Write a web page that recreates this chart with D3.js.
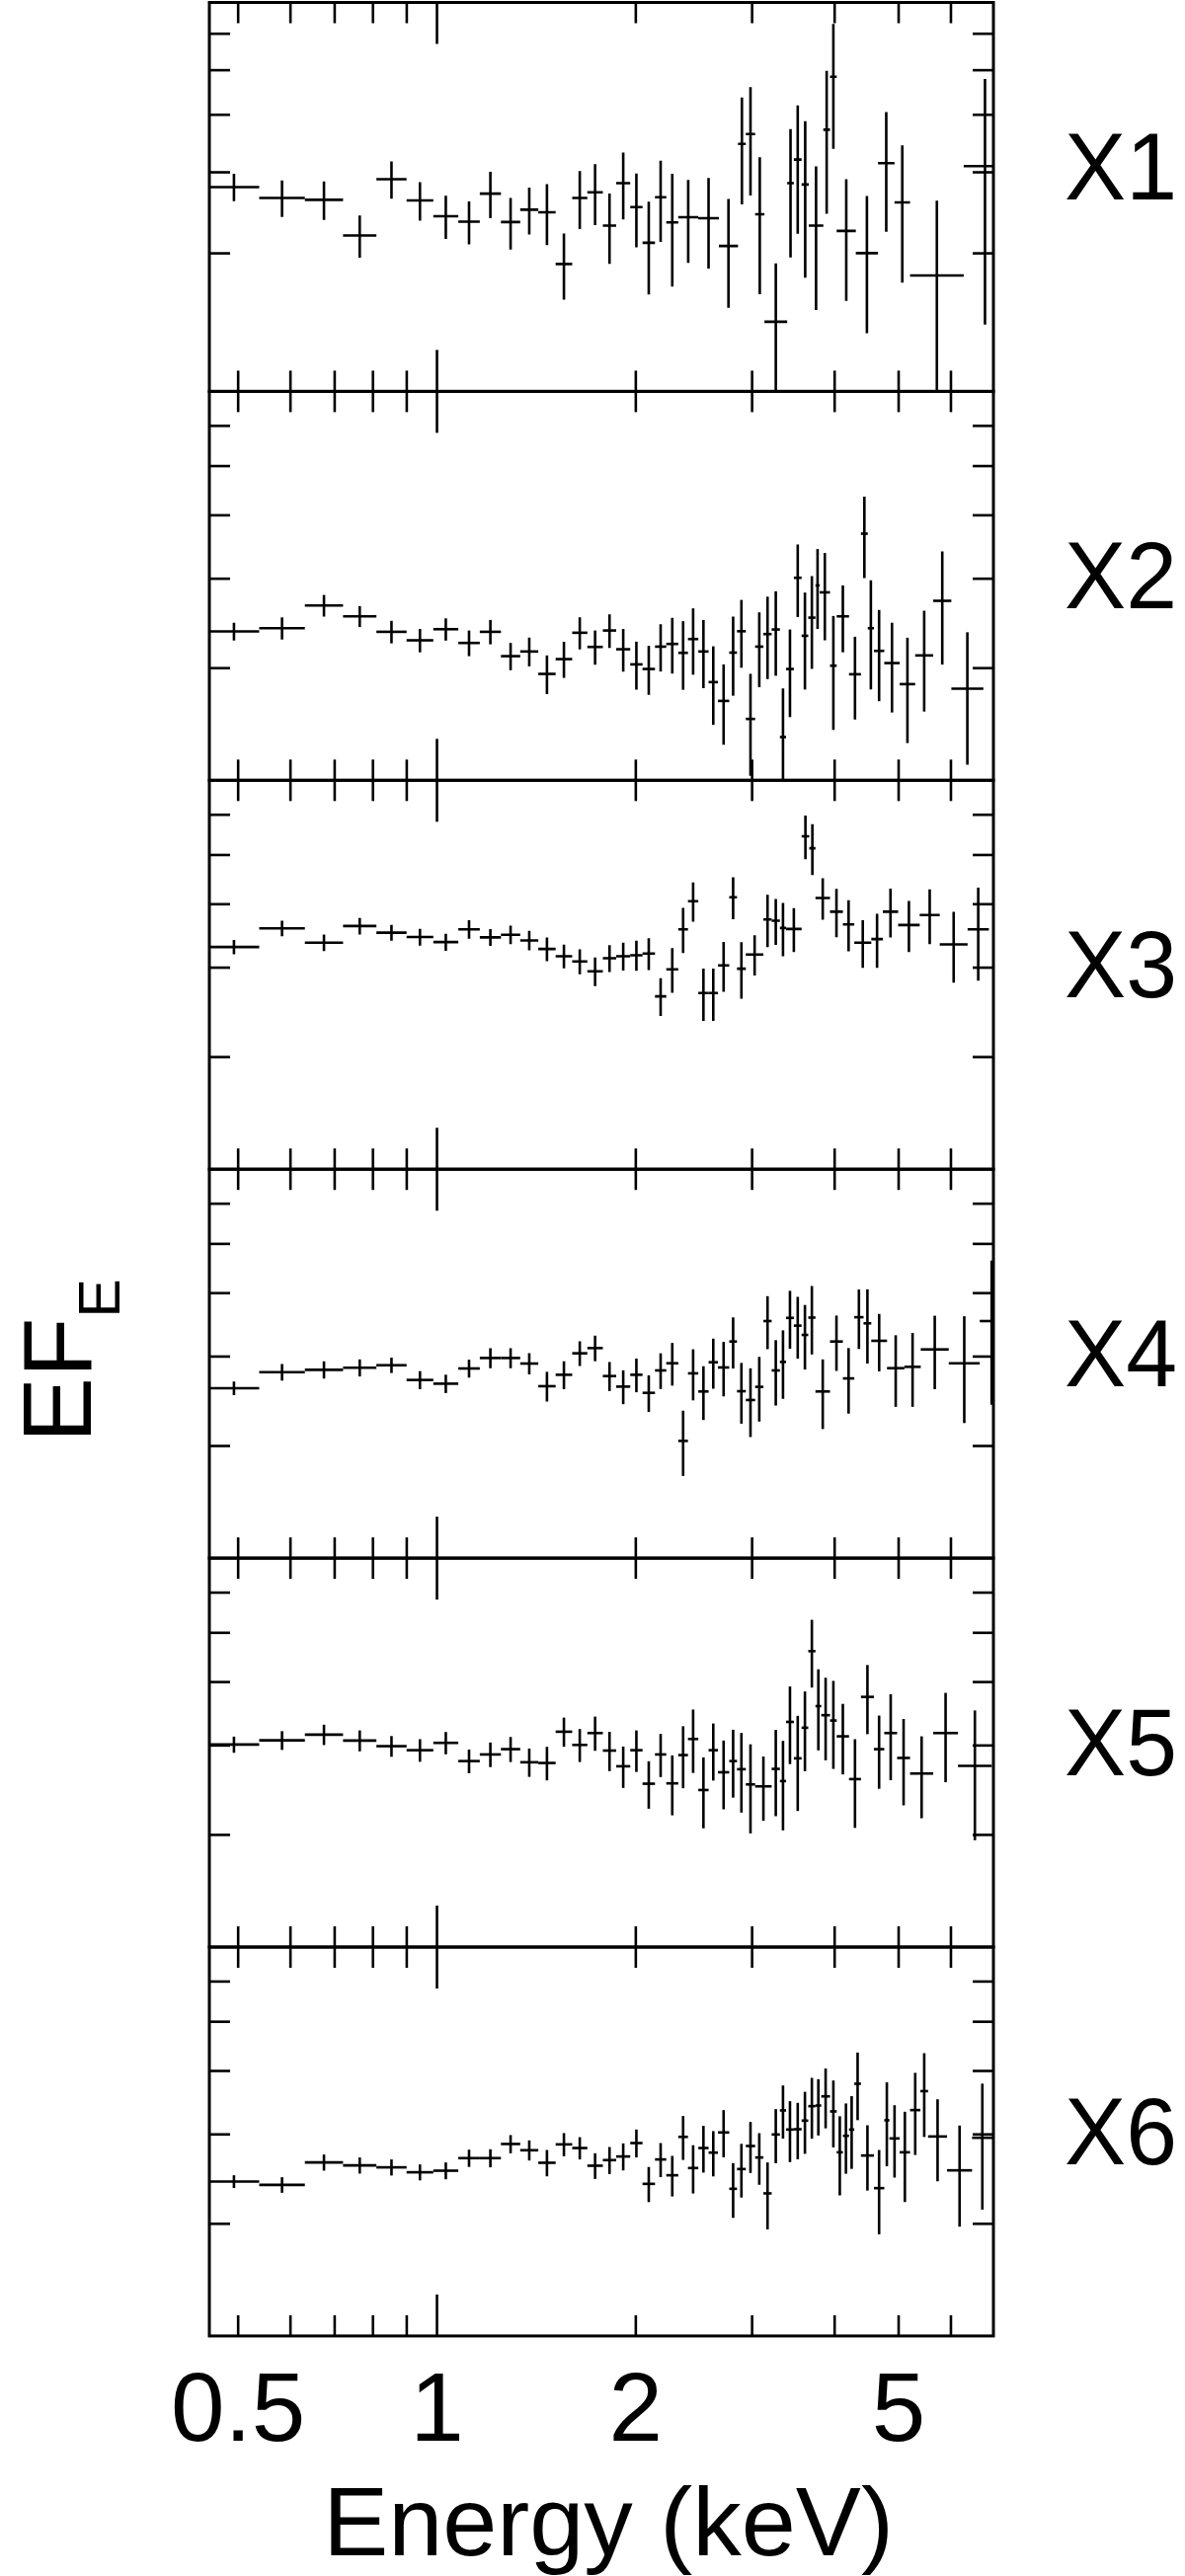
<!DOCTYPE html>
<html>
<head>
<meta charset="utf-8">
<script src="https://cdn.jsdelivr.net/npm/d3@7"></script>
<style>
  body { margin: 0; background: #fff; }
  svg { display: block; }
  text { font-family: "Liberation Sans", Arial, Helvetica, sans-serif; fill: #000; }
</style>
</head>
<body>
<svg id="chart" width="1200" height="2609"></svg>
<script>
// ---------------- data ----------------
const panelNames = ["X1", "X2", "X3", "X4", "X5", "X6"];

// shared low-energy bin edges (keV)
const lowEdges = [0.452, 0.539, 0.632, 0.722, 0.811, 0.901, 0.989, 1.079, 1.163, 1.252, 1.339,
  1.426, 1.515, 1.605, 1.692, 1.786, 1.871, 1.965, 2.051, 2.142, 2.228, 2.323];

// high-energy bin edges for each panel (continuing lowEdges)
const x1HighEdges = [2.490, 2.677, 2.861, 2.940, 3.037, 3.137, 3.396, 3.476, 3.571, 3.662, 3.852,
  3.943, 4.036, 4.314, 4.661, 4.937, 5.212, 6.284, 7.29];
const x2HighEdges = [2.403, 2.491, 2.582, 2.668, 2.775, 2.851, 2.94, 3.037, 3.126, 3.217, 3.311,
  3.383, 3.476, 3.571, 3.655, 3.748, 3.803, 3.943, 4.036, 4.213, 4.392, 4.498, 4.595, 4.764,
  5.027, 5.306, 5.65, 6.019, 6.73];
const x3HighEdges = [2.403, 2.491, 2.582, 2.668, 2.775, 2.851, 2.94, 3.126, 3.217, 3.311, 3.383,
  3.571, 3.668, 3.748, 3.943, 4.124, 4.291, 4.553, 4.74, 5.0, 5.39, 5.78, 6.37, 6.86];
const x4HighEdges = [2.403, 2.491, 2.582, 2.668, 2.775, 2.851, 2.94, 3.037, 3.126, 3.217, 3.311,
  3.383, 3.476, 3.571, 3.655, 3.748, 3.943, 4.124, 4.291, 4.432, 4.553, 4.81, 5.11, 5.41,
  5.965, 6.646, 7.22];
const x5HighEdges = [2.403, 2.491, 2.582, 2.668, 2.775, 2.851, 2.94, 3.037, 3.217, 3.311, 3.383,
  3.476, 3.571, 3.655, 3.748, 3.824, 3.943, 4.036, 4.213, 4.392, 4.595, 4.764, 4.982, 5.212,
  5.65, 6.16, 6.93];
const x6HighEdges = [2.403, 2.491, 2.582, 2.668, 2.775, 2.851, 2.94, 3.037, 3.126, 3.217, 3.311,
  3.383, 3.476, 3.571, 3.655, 3.748, 3.824, 3.943, 4.036, 4.124, 4.213, 4.291, 4.392, 4.595,
  4.764, 4.85, 5.027, 5.212, 5.403, 5.55, 5.93, 6.47, 6.95];

// EF_E values and 1-sigma errors
const x1Val = [2.78, 2.633, 2.608, 2.181, 2.891, 2.599, 2.403, 2.337, 2.69, 2.333, 2.482, 2.45,
  1.892, 2.633, 2.707, 2.292, 2.834, 2.515, 2.104, 2.642, 2.329, 2.391, 2.379, 2.07, 3.45,
  3.625, 2.426, 1.417, 2.834, 3.19, 2.816, 2.292, 3.703, 4.826, 2.232, 1.997, 3.133, 2.574,
  1.786, 3.086];
const x1Err = [0.19, 0.24, 0.25, 0.23, 0.27, 0.25, 0.26, 0.25, 0.31, 0.30, 0.29, 0.37, 0.31,
  0.38, 0.41, 0.40, 0.47, 0.46, 0.48, 0.53, 0.64, 0.49, 0.53, 0.55, 0.90, 0.96, 0.80, 0.48,
  0.88, 0.99, 1.05, 0.79, 1.27, 1.46, 0.66, 0.66, 0.91, 0.85, 0.81, 1.69];

const x2Val = [2.357, 2.392, 2.651, 2.524, 2.353, 2.264, 2.381, 2.237, 2.353, 2.107, 2.152,
  1.944, 2.079, 2.343, 2.197, 2.367, 2.174, 2.03, 1.988, 2.2, 2.227, 2.139, 2.277, 2.152,
  1.873, 1.72, 2.141, 2.359, 1.585, 2.2, 2.329, 2.378, 1.46, 1.988, 3.006, 2.311, 2.509,
  2.904, 2.814, 2.018, 2.524, 1.941, 3.672, 2.392, 2.158, 2.042, 1.856, 2.114, 2.708, 1.818];
const x2Err = [0.095, 0.12, 0.13, 0.12, 0.12, 0.12, 0.12, 0.13, 0.13, 0.13, 0.14, 0.17, 0.17,
  0.17, 0.17, 0.18, 0.21, 0.22, 0.22, 0.235, 0.28, 0.33, 0.34, 0.33, 0.33, 0.31, 0.38, 0.36,
  0.36, 0.37, 0.43, 0.45, 0.36, 0.39, 0.49, 0.50, 0.52, 0.52, 0.55, 0.51, 0.38, 0.36, 0.67,
  0.58, 0.44, 0.41, 0.435, 0.475, 0.68, 0.53];

const x3Val = [3.287, 3.578, 3.352, 3.615, 3.507, 3.439, 3.362, 3.562, 3.434, 3.475, 3.387,
  3.258, 3.153, 3.079, 2.944, 3.125, 3.153, 3.167, 3.191, 2.628, 2.97, 3.562, 4.045, 2.667,
  2.667, 3.024, 4.119, 2.979, 3.177, 3.725, 3.703, 3.583, 3.567, 5.429, 5.144, 4.106, 3.857,
  3.642, 3.352, 3.407, 3.857, 3.631, 3.8, 3.327, 3.562];
const x3Err = [0.105, 0.125, 0.125, 0.135, 0.125, 0.13, 0.13, 0.15, 0.13, 0.145, 0.15, 0.175,
  0.17, 0.175, 0.19, 0.19, 0.20, 0.215, 0.23, 0.225, 0.30, 0.365, 0.36, 0.315, 0.315, 0.34,
  0.39, 0.38, 0.29, 0.44, 0.385, 0.43, 0.355, 0.534, 0.59, 0.385, 0.42, 0.42, 0.36, 0.415,
  0.425, 0.42, 0.47, 0.53, 0.74];

const x4Val = [2.593, 2.789, 2.819, 2.845, 2.878, 2.692, 2.647, 2.836, 2.974, 2.974, 2.9, 2.617,
  2.756, 3.038, 3.111, 2.74, 2.612, 2.756, 2.539, 2.811, 2.904, 2.042, 2.774, 2.555, 2.917,
  2.849, 3.205, 2.558, 2.458, 2.609, 3.516, 2.811, 2.921, 3.567, 3.444, 3.302, 3.572, 2.555,
  3.205, 2.711, 3.578, 3.48, 3.215, 2.84, 2.857, 3.092, 2.904, 3.516];
const x4Err = [0.08, 0.105, 0.11, 0.11, 0.10, 0.11, 0.11, 0.115, 0.135, 0.135, 0.14, 0.176,
  0.174, 0.17, 0.18, 0.18, 0.20, 0.21, 0.21, 0.227, 0.28, 0.30, 0.32, 0.31, 0.33, 0.35, 0.37,
  0.35, 0.38, 0.38, 0.42, 0.414, 0.45, 0.466, 0.48, 0.48, 0.55, 0.40, 0.40, 0.40, 0.48, 0.58,
  0.416, 0.457, 0.474, 0.51, 0.69, 1.11];

const x5Val = [3.006, 3.064, 3.144, 3.06, 2.984, 2.93, 3.029, 2.789, 2.874, 2.944, 2.774, 2.765,
  3.186, 3.001, 3.167, 2.925, 2.724, 2.93, 2.517, 2.874, 2.521, 2.866, 3.083, 2.446, 2.93,
  2.651, 2.789, 2.688, 2.509, 2.487, 2.692, 2.547, 3.331, 2.824, 3.244, 4.592, 3.578, 3.434,
  3.352, 3.12, 2.57, 3.731, 2.944, 3.167, 2.829, 2.636, 3.167, 2.728];
const x5Err = [0.11, 0.13, 0.145, 0.145, 0.14, 0.15, 0.153, 0.15, 0.16, 0.167, 0.178, 0.21,
  0.21, 0.224, 0.245, 0.26, 0.255, 0.275, 0.27, 0.28, 0.34, 0.40, 0.44, 0.39, 0.377, 0.41,
  0.426, 0.48, 0.50, 0.36, 0.52, 0.51, 0.58, 0.60, 0.58, 0.70, 0.65, 0.635, 0.66, 0.495, 0.51,
  0.58, 0.484, 0.61, 0.547, 0.484, 0.633, 0.78];

const x6Val = [2.417, 2.381, 2.636, 2.601, 2.578, 2.521, 2.539, 2.688, 2.688, 2.866, 2.786,
  2.632, 2.861, 2.814, 2.597, 2.664, 2.708, 2.878, 2.392, 2.672, 2.487, 2.96, 2.57, 2.814,
  2.756, 3.02, 2.339, 2.558, 2.84, 2.696, 2.291, 2.992, 3.337, 3.06, 3.064, 3.186, 3.402,
  3.412, 3.557, 3.322, 2.76, 2.974, 3.06, 3.766, 2.72, 2.346, 3.191, 2.939, 2.76, 3.342,
  3.642, 2.965, 2.543, 2.948];
const x6Err = [0.07, 0.084, 0.096, 0.095, 0.094, 0.091, 0.097, 0.105, 0.11, 0.118, 0.127,
  0.157, 0.15, 0.142, 0.151, 0.163, 0.166, 0.182, 0.19, 0.206, 0.228, 0.294, 0.28, 0.297,
  0.282, 0.322, 0.289, 0.31, 0.327, 0.314, 0.345, 0.365, 0.40, 0.42, 0.39, 0.445, 0.466,
  0.433, 0.48, 0.50, 0.49, 0.47, 0.50, 0.573, 0.40, 0.443, 0.60, 0.478, 0.557, 0.615, 0.684,
  0.545, 0.573, 0.82];

// axis settings
const xDomain = [0.453, 6.97];
const yDomains = [[1.0, 7.0], [1.2, 7.0], [1.2, 7.0], [1.2, 7.0], [1.2, 7.0], [1.2, 7.0]];
const yTickValues = [2, 3, 4, 5, 6];
const xMinorTicks = [0.5, 0.6, 0.7, 0.8, 0.9, 2, 3, 4, 5, 6];
const xMajorTicks = [1];
const xTickLabels = [0.5, 1, 2, 5];
const xTitle = "Energy (keV)";
const labelLevel = 2.615;   // panel-name baseline, in data units of each panel

// ---------------- layout ----------------
const left = 212, right = 1006, top0 = 2.5, panelH = 393.9;
const svg = d3.select("#chart");
const x = d3.scaleLog().domain(xDomain).range([left, right]);

const panelData = [
  [x1HighEdges, x1Val, x1Err], [x2HighEdges, x2Val, x2Err], [x3HighEdges, x3Val, x3Err],
  [x4HighEdges, x4Val, x4Err], [x5HighEdges, x5Val, x5Err], [x6HighEdges, x6Val, x6Err]
];

const defs = svg.append("defs");

panelData.forEach(([high, vals, errs], i) => {
  const y0 = top0 + i * panelH, y1 = y0 + panelH;
  const y = d3.scaleLog().domain(yDomains[i]).range([y1, y0]);
  const edges = lowEdges.concat(high);
  const pts = vals.map((v, k) => ({ lo: edges[k], hi: edges[k + 1], v: v, e: errs[k] }));

  defs.append("clipPath").attr("id", "clip" + i)
    .append("rect").attr("x", left).attr("y", y0).attr("width", right - left).attr("height", panelH);

  const g = svg.append("g");
  const marks = g.append("g").attr("clip-path", `url(#clip${i})`)
    .attr("stroke", "#000").attr("stroke-width", 2.6).attr("fill", "none");

  marks.selectAll("line.h").data(pts).join("line").attr("class", "h")
    .attr("x1", d => x(d.lo)).attr("x2", d => x(d.hi))
    .attr("y1", d => y(d.v)).attr("y2", d => y(d.v));
  marks.selectAll("line.v").data(pts).join("line").attr("class", "v")
    .attr("x1", d => x(Math.sqrt(d.lo * d.hi))).attr("x2", d => x(Math.sqrt(d.lo * d.hi)))
    .attr("y1", d => y(Math.max(d.v - d.e, 0.3))).attr("y2", d => y(d.v + d.e));

  // ticks via d3 axes (pointing inward)
  const styleAxis = sel => {
    sel.select(".domain").remove();
    sel.selectAll(".tick line").attr("stroke", "#000").attr("stroke-width", 2.6);
    sel.selectAll(".tick text").remove();
  };
  [[xMinorTicks, 21], [xMajorTicks, 42]].forEach(([vals, len]) => {
    g.append("g").attr("transform", `translate(0,${y0})`)
      .call(d3.axisTop(x).tickValues(vals).tickSizeInner(-len).tickSizeOuter(0).tickFormat(""))
      .call(styleAxis);
    g.append("g").attr("transform", `translate(0,${y1})`)
      .call(d3.axisBottom(x).tickValues(vals).tickSizeInner(-len).tickSizeOuter(0).tickFormat(""))
      .call(styleAxis);
  });
  g.append("g").attr("transform", `translate(${left},0)`)
    .call(d3.axisLeft(y).tickValues(yTickValues).tickSizeInner(-21).tickSizeOuter(0).tickFormat(""))
    .call(styleAxis);
  g.append("g").attr("transform", `translate(${right},0)`)
    .call(d3.axisRight(y).tickValues(yTickValues).tickSizeInner(-21).tickSizeOuter(0).tickFormat(""))
    .call(styleAxis);

  // frame
  g.append("rect").attr("x", left).attr("y", y0).attr("width", right - left).attr("height", panelH)
    .attr("fill", "none").attr("stroke", "#000").attr("stroke-width", 3);

  // panel label (placed at a fixed data level of the panel)
  g.append("text").attr("x", 1078).attr("y", y(labelLevel))
    .attr("font-size", 96).attr("textLength", 114).attr("lengthAdjust", "spacingAndGlyphs")
    .text(panelNames[i]);
});

// bottom tick labels
const yBottom = top0 + 6 * panelH;
const labAxis = svg.append("g").attr("transform", `translate(0,${yBottom})`)
  .call(d3.axisBottom(x).tickValues(xTickLabels).tickSize(0).tickPadding(37)
    .tickFormat(d => String(d)));
labAxis.select(".domain").remove();
labAxis.selectAll("text").attr("font-size", 98)
  .attr("font-family", '"Liberation Sans", Arial, Helvetica, sans-serif').attr("fill", "#000");

// x title
svg.append("text").attr("x", 616).attr("y", 2588).attr("text-anchor", "middle")
  .attr("font-size", 99).text(xTitle);

// y title: EF_E
const yt = svg.append("text").attr("transform", "translate(92,1461) rotate(-90)")
  .attr("font-size", 99);
yt.append("tspan").text("EF");
yt.append("tspan").attr("font-size", 59).attr("dy", 29).text("E");
</script>
</body>
</html>
